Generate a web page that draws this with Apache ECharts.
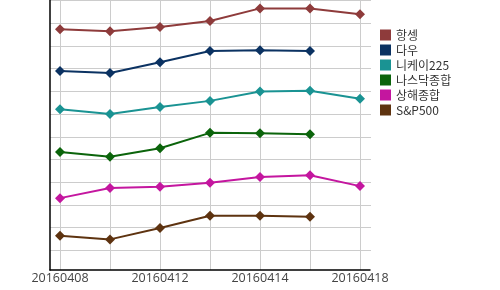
<!DOCTYPE html>
<html><head><meta charset="utf-8">
<script src="https://cdn.jsdelivr.net/npm/echarts@6/dist/echarts.min.js"></script>
<style>html,body{margin:0;padding:0;background:#fff}#c{width:500px;height:290px}</style>
</head><body><div id="c"></div>
<script>
var categories = ['20160408','20160411','20160412','20160413','20160414','20160415','20160418'];
var seriesNames = ['항셍','다우','니케이225','나스닥종합','상해종합','S&P500'];
var hangSeng = [9.74, 9.65, 9.84, 10.10, 10.66, 10.66, 10.40];
var dow = [7.90, 7.81, 8.28, 8.78, 8.81, 8.78, null];
var nikkei = [6.21, 6.00, 6.31, 6.58, 6.99, 7.03, 6.67];
var nasdaq = [4.32, 4.12, 4.49, 5.17, 5.15, 5.11, null];
var shanghai = [2.29, 2.74, 2.79, 2.97, 3.22, 3.30, 2.82];
var sp500 = [0.63, 0.47, 0.97, 1.51, 1.51, 1.47, null];
var colors = ['#8e3b3b','#0b3262','#1a9393','#0b640b','#c4169f','#5e3310'];
var allData = [hangSeng, dow, nikkei, nasdaq, shanghai, sp500];

var chart = echarts.init(document.getElementById('c'));
var series = seriesNames.map(function(n, i){
  return {
    name: n, type: 'line', xAxisIndex: 0, yAxisIndex: 0,
    data: allData[i], symbol: 'diamond', symbolSize: 10,
    lineStyle: {width: 2, color: colors[i]}, itemStyle: {color: colors[i]},
    connectNulls: false, animation: false
  };
});
chart.setOption({
  animation: false,
  color: colors,
  legend: {
    orient: 'vertical', left: 375, top: 24, itemWidth: 11, itemHeight: 11, itemGap: 3,
    icon: 'rect', data: seriesNames,
    textStyle: {fontSize: 12, lineHeight: 12, color: '#333', fontFamily: 'Noto Sans CJK KR'}
  },
  grid: [
    {left: 60, right: 140, top: 0, bottom: 20},
    {left: 50, right: 130, top: 0, bottom: 20},
    {left: 50, right: 129, top: 0.6, bottom: 39.7}
  ],
  xAxis: [
    {gridIndex: 0, type: 'category', data: categories, boundaryGap: false,
     axisLine: {show: false}, axisTick: {show: false, interval: 0},
     axisLabel: {interval: 1, margin: 2, fontSize: 12.5, color: '#444', fontFamily: 'Open Sans'},
     splitLine: {show: true, interval: 0, lineStyle: {color: '#cccccc', width: 1}}},
    {gridIndex: 1, type: 'value', min: 0, max: 1, axisLine: {show: true, lineStyle: {color: '#000', width: 1.5}},
     axisTick: {show: false}, axisLabel: {show: false}, splitLine: {show: false}},
    {gridIndex: 2, type: 'value', min: 0, max: 1, show: false}
  ],
  yAxis: [
    {gridIndex: 0, type: 'value', min: -0.88, max: 11.03, show: false, splitLine: {show: false}},
    {gridIndex: 1, type: 'value', min: 0, max: 1, axisLine: {show: true, lineStyle: {color: '#000', width: 1.5}},
     axisTick: {show: false}, axisLabel: {show: false}, splitLine: {show: false}},
    {gridIndex: 2, type: 'value', min: 0, max: 11, interval: 1, axisLine: {show: false},
     axisTick: {show: false}, axisLabel: {show: false},
     splitLine: {show: true, lineStyle: {color: '#cccccc', width: 1}}}
  ],
  series: series
});
</script></body></html>
